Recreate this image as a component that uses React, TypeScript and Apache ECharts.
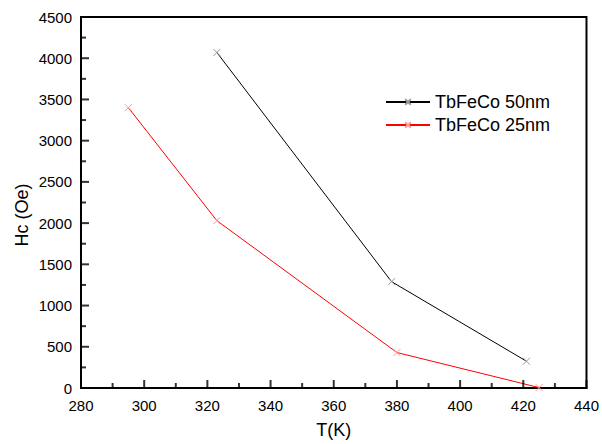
import React, { useEffect, useRef } from "react";
import * as echarts from "echarts";

const seriesNames = ["TbFeCo 50nm", "TbFeCo 25nm"];
const temp50 = [323, 378.3, 421];
const hc50 = [4070, 1290, 325];
const temp25 = [295, 323, 380, 425];
const hc25 = [3400, 2030, 430, 5];

const xMajorTicks = [280, 300, 320, 340, 360, 380, 400, 420, 440];
const xMinorTicks = [290, 310, 330, 350, 370, 390, 410, 430];
const yMajorTicks = [0, 500, 1000, 1500, 2000, 2500, 3000, 3500, 4000, 4500];
const yMinorTicks = [250, 750, 1250, 1750, 2250, 2750, 3250, 3750, 4250];

const FONT = "Liberation Sans, Arial, sans-serif";
const XMARK = "path://M0,0L10,10M10,0L0,10";

export default function App() {
  const ref = useRef<HTMLDivElement>(null);
  useEffect(() => {
    document.body.style.margin = "0";
    const chart = echarts.init(ref.current!, null, { renderer: "svg" });
    const mkData = (xs: number[], ys: number[]) => xs.map((x, i) => [x, ys[i]]);
    const tickSeries = (data: number[][], size: number[], offset: number[]) => ({
      type: "scatter",
      silent: true,
      clip: false,
      data,
      symbol: "rect",
      symbolSize: size,
      symbolOffset: offset,
      itemStyle: { color: "#000", borderWidth: 0 },
      z: 5,
    });
    chart.setOption({
      animation: false,
      backgroundColor: "#ffffff",
      textStyle: { fontFamily: FONT, color: "#000" },
      grid: {
        left: 81,
        right: 10,
        top: 17,
        bottom: 52,
        show: true,
        borderColor: "#000",
        borderWidth: 2,
        backgroundColor: "transparent",
      },
      graphic: [
        {
          type: "text",
          x: 22,
          y: 215,
          rotation: Math.PI / 2,
          style: {
            text: "Hc (Oe)",
            fontFamily: FONT,
            fontSize: 18,
            fill: "#000",
            align: "center",
            verticalAlign: "middle",
          },
        },
      ],
      legend: {
        left: 380,
        top: 88,
        orient: "vertical",
        itemWidth: 44,
        itemHeight: 7,
        itemGap: 5,
        textStyle: { fontFamily: FONT, fontSize: 18, color: "#000" },
        data: seriesNames,
      },
      xAxis: {
        type: "value",
        min: 280,
        max: 440,
        interval: 20,
        name: "T(K)",
        nameLocation: "middle",
        nameGap: 33,
        nameTextStyle: { fontFamily: FONT, fontSize: 18, color: "#000" },
        axisLine: { show: true, lineStyle: { color: "#000", width: 2 } },
        axisTick: { show: false },
        axisLabel: { fontFamily: FONT, fontSize: 15, color: "#000", margin: 10 },
        splitLine: { show: false },
      },
      yAxis: {
        type: "value",
        min: 0,
        max: 4500,
        interval: 500,
        axisLine: { show: true, lineStyle: { color: "#000", width: 2 } },
        axisTick: { show: false },
        axisLabel: {
          fontFamily: FONT,
          fontSize: 15,
          color: "#000",
          margin: 9,
          formatter: (v: number) => String(v),
        },
        splitLine: { show: false },
      },
      series: [
        tickSeries(xMajorTicks.map((v) => [v, 0]), [2, 8], [0, -4]),
        tickSeries(xMinorTicks.map((v) => [v, 0]), [2, 5], [0, -2.5]),
        tickSeries(yMajorTicks.map((v) => [280, v]), [8, 2], [4, 0]),
        tickSeries(yMinorTicks.map((v) => [280, v]), [5, 2], [2.5, 0]),
        {
          name: seriesNames[0],
          type: "line",
          data: mkData(temp50, hc50),
          symbol: XMARK,
          symbolSize: 7,
          lineStyle: { color: "#000", width: 1 },
          itemStyle: { color: "none", borderColor: "#999", borderWidth: 1 },
          z: 3,
        },
        {
          name: seriesNames[1],
          type: "line",
          data: mkData(temp25, hc25),
          symbol: XMARK,
          symbolSize: 7,
          lineStyle: { color: "#ff0000", width: 1 },
          itemStyle: { color: "none", borderColor: "#ff9999", borderWidth: 1 },
          z: 3,
        },
      ],
    });
    return () => chart.dispose();
  }, []);
  return (
    <div
      ref={ref}
      style={{ position: "absolute", left: 0, top: 0, width: 602, height: 444 }}
    />
  );
}
